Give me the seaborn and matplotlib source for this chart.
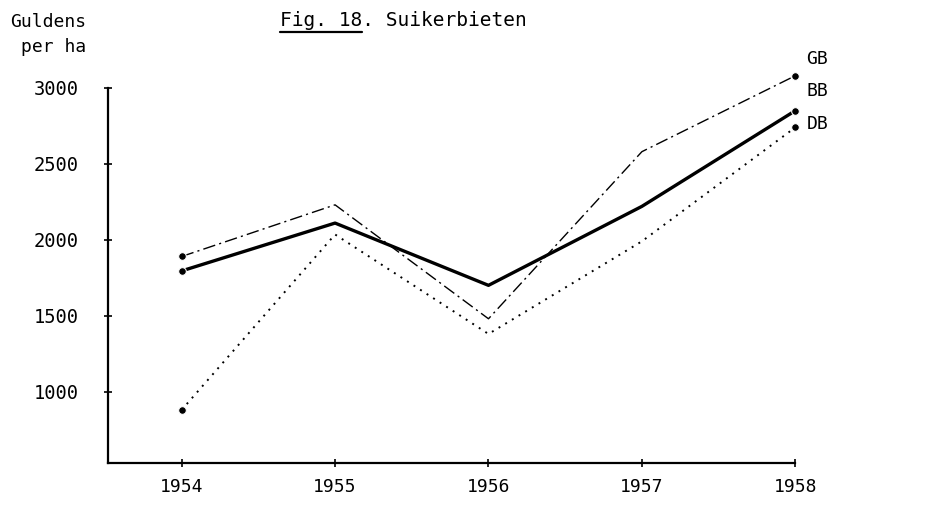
import matplotlib
matplotlib.use("Agg")
import matplotlib.pyplot as plt
import seaborn as sns
import pandas as pd

# Suikerbieten, guldens per ha
jaren = [1954, 1955, 1956, 1957, 1958]
gb = [1890, 2230, 1480, 2580, 3080]
bb = [1795, 2110, 1700, 2220, 2850]
db = [880, 2035, 1380, 1990, 2740]
y_ticks = [1000, 1500, 2000, 2500, 3000]

df = pd.DataFrame({"jaar": jaren * 3,
                   "waarde": gb + bb + db,
                   "bedrijf": ["GB"] * 5 + ["BB"] * 5 + ["DB"] * 5})

sns.set_theme(style="white")
plt.rcParams['font.family'] = ['DejaVu Sans Mono', 'DejaVu Sans']
plt.rcParams['text.color'] = 'black'

fig = plt.figure(figsize=(9.39, 5.05), dpi=100)
ax = fig.add_axes([0.115, 0.083, 0.732, 0.743])

stijlen = {"GB": dict(lw=1.0, ls=(0, (9, 3, 1.5, 3))),
           "BB": dict(lw=2.4, ls="-"),
           "DB": dict(lw=1.4, ls=(0, (1, 3)))}

for naam, st in stijlen.items():
    sub = df[df["bedrijf"] == naam]
    sns.lineplot(data=sub, x="jaar", y="waarde", ax=ax, color="black",
                 linewidth=st["lw"], linestyle=st["ls"], marker="o",
                 markersize=5.5, markevery=[0, len(sub) - 1], clip_on=False)

ax.set_xlim(1953.52, 1958.0)
ax.set_ylim(530, 2975)
ax.set_xticks(jaren)
ax.set_xticklabels([str(j) for j in jaren], fontsize=13)
ax.set_yticks(y_ticks)
ax.set_yticklabels([str(v) for v in y_ticks], fontsize=13.5)
ax.set_xlabel("")
ax.set_ylabel("")

for s in ["top", "right"]:
    ax.spines[s].set_visible(False)
for s in ["left", "bottom"]:
    ax.spines[s].set_color("black")
    ax.spines[s].set_linewidth(1.6)
ax.tick_params(axis="both", direction="inout", length=6, width=1.2,
               colors="black", left=True, bottom=True)
ax.tick_params(axis="y", pad=18)
ax.tick_params(axis="x", pad=8)

# titels en labels
fig.text(0.011, 0.975, "Guldens", fontsize=13, va="top", ha="left")
fig.text(0.022, 0.925, "per ha", fontsize=13, va="top", ha="left")
titel = fig.text(0.298, 0.96, "Fig. 18. Suikerbieten", fontsize=14,
                 va="center", ha="left")

# onderstreping onder "Fig. 18"
fig.canvas.draw()
bb_titel = titel.get_window_extent().transformed(fig.transFigure.inverted())
teken = (bb_titel.x1 - bb_titel.x0) / len(titel.get_text())
fig.add_artist(plt.Line2D([bb_titel.x0, bb_titel.x0 + 7 * teken],
                          [bb_titel.y0 - 0.004, bb_titel.y0 - 0.004],
                          color="black", lw=1.6, transform=fig.transFigure))

for naam, y in zip(["GB", "BB", "DB"], [0.883, 0.820, 0.755]):
    fig.text(0.859, y, naam, fontsize=13, va="center", ha="left")

fig.savefig("out.png", dpi=100, facecolor="white")
